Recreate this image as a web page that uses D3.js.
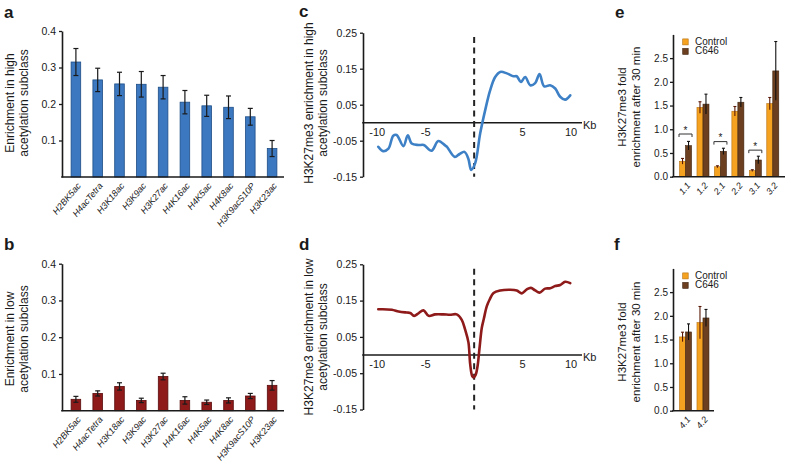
<!DOCTYPE html>
<html>
<head>
<meta charset="utf-8">
<script src="https://cdn.jsdelivr.net/npm/d3@7"></script>
<style>
  html, body { margin: 0; padding: 0; background: #fff; }
  svg { display: block; font-family: "Liberation Sans", Arial, sans-serif; }
</style>
</head>
<body>
<svg id="chart" width="785" height="463"></svg>
<script>
// ---------- DATA ----------
const histoneMarks = ["H2BK5ac","H4acTetra","H3K18ac","H3K9ac","H3K27ac","H4K16ac","H4K5ac","H4K8ac","H3K9acS10P","H3K23ac"];
const highAcetylMean = [0.315,0.266,0.255,0.254,0.246,0.205,0.195,0.191,0.165,0.078];
const highAcetylErr  = [0.037,0.032,0.032,0.035,0.032,0.032,0.029,0.031,0.023,0.022];
const lowAcetylMean  = [0.031,0.047,0.066,0.028,0.093,0.028,0.023,0.028,0.040,0.069];
const lowAcetylErr   = [0.008,0.007,0.010,0.006,0.009,0.010,0.006,0.007,0.007,0.013];
const abYTicks = [0.1,0.2,0.3,0.4];

const highProfileKb  = [-9.9,-9.4,-8.85,-8.35,-8.0,-7.3,-6.85,-6.45,-5.75,-5.2,-4.4,-3.7,-3.0,-2.8,-2.0,-1.5,-1.0,-0.6,-0.31,0.1,0.62,1.14,1.65,2.17,2.69,3.38,4.06,4.4,4.82,5.27,5.79,6.3,6.75,7.23,7.85,8.37,8.88,9.4,9.92];
const highProfileVal = [-0.067,-0.079,-0.072,-0.036,-0.034,-0.065,-0.035,-0.058,-0.062,-0.062,-0.078,-0.051,-0.063,-0.067,-0.095,-0.087,-0.081,-0.100,-0.131,-0.113,-0.030,0.035,0.090,0.127,0.141,0.137,0.129,0.129,0.113,0.127,0.104,0.110,0.135,0.101,0.104,0.095,0.072,0.064,0.076];
const lowProfileKb  = [-9.9,-8.5,-7.8,-6.95,-6.6,-6.2,-5.75,-5.23,-4.7,-4.03,-3.17,-2.5,-1.8,-1.28,-0.93,-0.59,-0.41,-0.2,-0.05,0.15,0.35,0.55,0.79,1.0,1.3,1.6,2.0,2.69,3.72,4.4,4.93,5.44,5.86,6.3,6.75,7.33,7.85,8.37,8.88,9.4,9.92];
const lowProfileVal = [0.126,0.125,0.120,0.117,0.116,0.108,0.115,0.123,0.108,0.112,0.112,0.111,0.112,0.097,0.070,0.035,-0.025,-0.058,-0.062,-0.055,-0.031,0.018,0.075,0.100,0.134,0.153,0.171,0.178,0.180,0.178,0.170,0.181,0.185,0.178,0.172,0.183,0.184,0.190,0.193,0.202,0.198];
const profileYTicks = [-0.15,-0.05,0.05,0.15,0.25];
const profileXTicks = [-10,-5,5,10];

const regionsE = ["1.1","1.2","2.1","2.2","3.1","3.2"];
const controlE    = [0.325,1.46,0.21,1.38,0.127,1.54];
const controlEErr = [0.06,0.12,0.02,0.10,0.02,0.13];
const c646E       = [0.654,1.53,0.535,1.57,0.352,2.23];
const c646EErr    = [0.09,0.21,0.065,0.10,0.08,0.62];
const sigE = [{i:0, h:0.90},{i:2, h:0.74},{i:4, h:0.56}];
const regionsF = ["4.1","4.2"];
const controlF    = [1.555,1.857];
const controlFErr = [0.10,0.34];
const c646F       = [1.66,1.955];
const c646FErr    = [0.17,0.18];
const efYTicks = [0.0,0.5,1.0,1.5,2.0,2.5];
const legendNames = ["Control","C646"];

// ---------- STYLE ----------
const svg = d3.select("#chart");
const INK = "#1a1a1a";

function panelLabel(t, x, y) {
  svg.append("text").attr("x", x).attr("y", y).attr("font-size", 17).attr("font-weight", "bold").attr("fill", INK).text(t);
}
function yTitle(lines, x, yc, size) {
  lines.forEach((l, k) => {
    svg.append("text")
      .attr("transform", `translate(${x + k * (size + 2)},${yc}) rotate(-90)`)
      .attr("text-anchor", "middle").attr("font-size", size).attr("fill", INK).text(l);
  });
}
function styleAxis(g, fs) {
  g.selectAll("path.domain").attr("stroke", INK).attr("stroke-width", 1.6);
  g.selectAll(".tick line").attr("stroke", INK).attr("stroke-width", 1.3);
  g.selectAll(".tick text").attr("font-size", fs).attr("fill", INK).attr("font-family", "Liberation Sans, Arial, sans-serif");
}

// ---------- PANELS a & b ----------
function histoneBars(mean, err, yBase, yTop, fill, edge) {
  const x = d3.scaleBand().domain(histoneMarks).range([65, 283]).paddingInner(0.56).paddingOuter(0.28);
  const y = d3.scaleLinear().domain([0, 0.4]).range([yBase, yTop]);
  const g = svg.append("g");
  g.selectAll("rect").data(histoneMarks).join("rect")
    .attr("x", d => x(d)).attr("width", x.bandwidth())
    .attr("y", (d, i) => y(mean[i])).attr("height", (d, i) => y(0) - y(mean[i]))
    .attr("fill", fill).attr("stroke", edge).attr("stroke-width", 0.8);
  const eb = g.append("g").attr("stroke", INK).attr("stroke-width", 1.2);
  histoneMarks.forEach((d, i) => {
    const cx = x(d) + x.bandwidth() / 2;
    eb.append("line").attr("x1", cx).attr("x2", cx).attr("y1", y(mean[i] - err[i])).attr("y2", y(mean[i] + err[i]));
    [mean[i] - err[i], mean[i] + err[i]].forEach(v =>
      eb.append("line").attr("x1", cx - 2.5).attr("x2", cx + 2.5).attr("y1", y(v)).attr("y2", y(v)));
  });
  const ay = svg.append("g").attr("transform", "translate(62,0)")
    .call(d3.axisLeft(y).tickValues(abYTicks).tickSize(3).tickSizeOuter(0).tickPadding(3).tickFormat(d3.format(".1f")));
  styleAxis(ay, 10.5);
  svg.append("line").attr("x1", 61.2).attr("x2", 284).attr("y1", y(0)).attr("y2", y(0)).attr("stroke", INK).attr("stroke-width", 1.6);
  histoneMarks.forEach(d => {
    const cx = x(d) + x.bandwidth() / 2;
    svg.append("text")
      .attr("transform", `translate(${cx + 3},${y(0) + 7}) rotate(-50)`)
      .attr("text-anchor", "end").attr("dy", "0.35em").attr("font-size", 9).attr("font-style", "italic").attr("fill", INK).text(d);
  });
}
histoneBars(highAcetylMean, highAcetylErr, 177, 31, "#3b78c0", "#1d4d86");
histoneBars(lowAcetylMean, lowAcetylErr, 410.7, 263.7, "#8e1a1a", "#5a0c0c");
panelLabel("a", 4, 18);
panelLabel("b", 4, 250);
yTitle(["Enrichment in high", "acetylation subclass"], 14, 103, 12);
yTitle(["Enrichment in low", "acetylation subclass"], 14, 339, 12);

// ---------- PANELS c & d ----------
function profile(kb, val, yBase, yTop, color) {
  const x = d3.scaleLinear().domain([-10, 10]).range([377.3, 571]);
  const y = d3.scaleLinear().domain([-0.15, 0.25]).range([yBase, yTop]);
  const ay = svg.append("g").attr("transform", "translate(363,0)")
    .call(d3.axisLeft(y).tickValues(profileYTicks).tickSize(3).tickSizeOuter(0).tickPadding(3).tickFormat(d => d.toFixed(2)));
  styleAxis(ay, 10.5);
  svg.append("line").attr("x1", 362.2).attr("x2", 582).attr("y1", y(0)).attr("y2", y(0)).attr("stroke", INK).attr("stroke-width", 1.6);
  profileXTicks.forEach(t => svg.append("text").attr("x", x(t)).attr("y", y(0) + 13).attr("text-anchor", "middle")
    .attr("font-size", 11).attr("fill", INK).text(String(t)));
  svg.append("text").attr("x", 583).attr("y", y(0) + 6).attr("font-size", 11).attr("fill", INK).text("Kb");
  svg.append("line").attr("x1", x(0)).attr("x2", x(0)).attr("y1", y(0.238)).attr("y2", y(-0.15))
    .attr("stroke", "#222").attr("stroke-width", 2).attr("stroke-dasharray", "6,4.5");
  const pts = kb.map((k, i) => [k, val[i]]);
  svg.append("path").datum(pts)
    .attr("d", d3.line().x(d => x(d[0])).y(d => y(d[1])).curve(d3.curveCatmullRom.alpha(0.5)))
    .attr("fill", "none").attr("stroke", color).attr("stroke-width", 2.6).attr("stroke-linejoin", "round").attr("stroke-linecap", "round");
}
profile(highProfileKb, highProfileVal, 176.7, 32.7, "#3d80c6");
profile(lowProfileKb, lowProfileVal, 409.5, 264.3, "#8e1a1a");
panelLabel("c", 299, 17);
panelLabel("d", 299, 250);
yTitle(["H3K27me3 enrichment in high", "acetylation subclass"], 313, 103, 12);
yTitle(["H3K27me3 enrichment in low", "acetylation subclass"], 313, 337, 12);

// ---------- PANELS e & f ----------
const ORANGE = "#f4a21f", ORANGE_EDGE = "#b56f10", BROWN = "#6b3f1f", BROWN_EDGE = "#3e2210";
function foldBars(groups, ctrl, ctrlErr, trt, trtErr, yBase, xEnd, sig) {
  const step = 17.45;
  const x = d3.scaleBand().domain(groups).range([676.8, 676.8 + step * groups.length]).padding(0);
  const y = d3.scaleLinear().domain([0, 3.0]).range([yBase, yBase - 142.3]);
  const bw = 6;
  const g = svg.append("g");
  groups.forEach((d, i) => {
    const cx = x(d) + x.bandwidth() / 2;
    g.append("rect").attr("x", cx - bw).attr("width", bw).attr("y", y(ctrl[i])).attr("height", y(0) - y(ctrl[i]))
      .attr("fill", ORANGE).attr("stroke", ORANGE_EDGE).attr("stroke-width", 0.6);
    g.append("rect").attr("x", cx).attr("width", bw).attr("y", y(trt[i])).attr("height", y(0) - y(trt[i]))
      .attr("fill", BROWN).attr("stroke", BROWN_EDGE).attr("stroke-width", 0.6);
    [[cx - bw / 2, ctrl[i], ctrlErr[i], "#5a1a08"], [cx + bw / 2, trt[i], trtErr[i], "#111"]].forEach(([ex, m, e, c]) => {
      g.append("line").attr("x1", ex).attr("x2", ex).attr("y1", y(m - e)).attr("y2", y(m + e)).attr("stroke", c).attr("stroke-width", 1.1);
      g.append("line").attr("x1", ex - 1.5).attr("x2", ex + 1.5).attr("y1", y(m + e)).attr("y2", y(m + e)).attr("stroke", c).attr("stroke-width", 1.1);
    });
    svg.append("text")
      .attr("transform", `translate(${cx + 3},${y(0) + 7}) rotate(-50)`)
      .attr("text-anchor", "end").attr("dy", "0.35em").attr("font-size", 9).attr("font-style", "italic").attr("fill", INK).text(d);
  });
  sig.forEach(s => {
    const cx = x(groups[s.i]) + x.bandwidth() / 2;
    const yy = y(s.h);
    g.append("path").attr("d", `M${cx - 6.5},${yy + 3}V${yy}H${cx + 6.5}V${yy + 3}`)
      .attr("fill", "none").attr("stroke", "#333").attr("stroke-width", 1);
    g.append("text").attr("x", cx).attr("y", yy - 0.5).attr("text-anchor", "middle").attr("font-size", 10).attr("fill", INK).text("*");
  });
  const ay = svg.append("g").attr("transform", "translate(673,0)")
    .call(d3.axisLeft(y).tickValues(efYTicks).tickSize(3).tickSizeOuter(0).tickPadding(2).tickFormat(d3.format(".1f")));
  styleAxis(ay, 10);
  svg.append("line").attr("x1", 672.2).attr("x2", xEnd).attr("y1", y(0)).attr("y2", y(0)).attr("stroke", INK).attr("stroke-width", 1.6);
  // legend
  const lg = svg.append("g");
  legendNames.forEach((n, k) => {
    const ly = y(3.0) + 4.5 + k * 9.5;
    lg.append("rect").attr("x", 682.7).attr("y", ly).attr("width", 5.5).attr("height", 6)
      .attr("fill", k ? BROWN : ORANGE).attr("stroke", k ? BROWN_EDGE : ORANGE_EDGE).attr("stroke-width", 0.6);
    lg.append("text").attr("x", 695).attr("y", ly + 6).attr("font-size", 10).attr("fill", INK).text(n);
  });
}
foldBars(regionsE, controlE, controlEErr, c646E, c646EErr, 176.7, 785, sigE);
foldBars(regionsF, controlF, controlFErr, c646F, c646FErr, 410.7, 714, []);
panelLabel("e", 615, 18);
panelLabel("f", 614, 250);
yTitle(["H3K27me3 fold", "enrichment after 30 min"], 626, 107, 11.5);
yTitle(["H3K27me3 fold", "enrichment after 30 min"], 626, 342, 11.5);
</script>
</body>
</html>
